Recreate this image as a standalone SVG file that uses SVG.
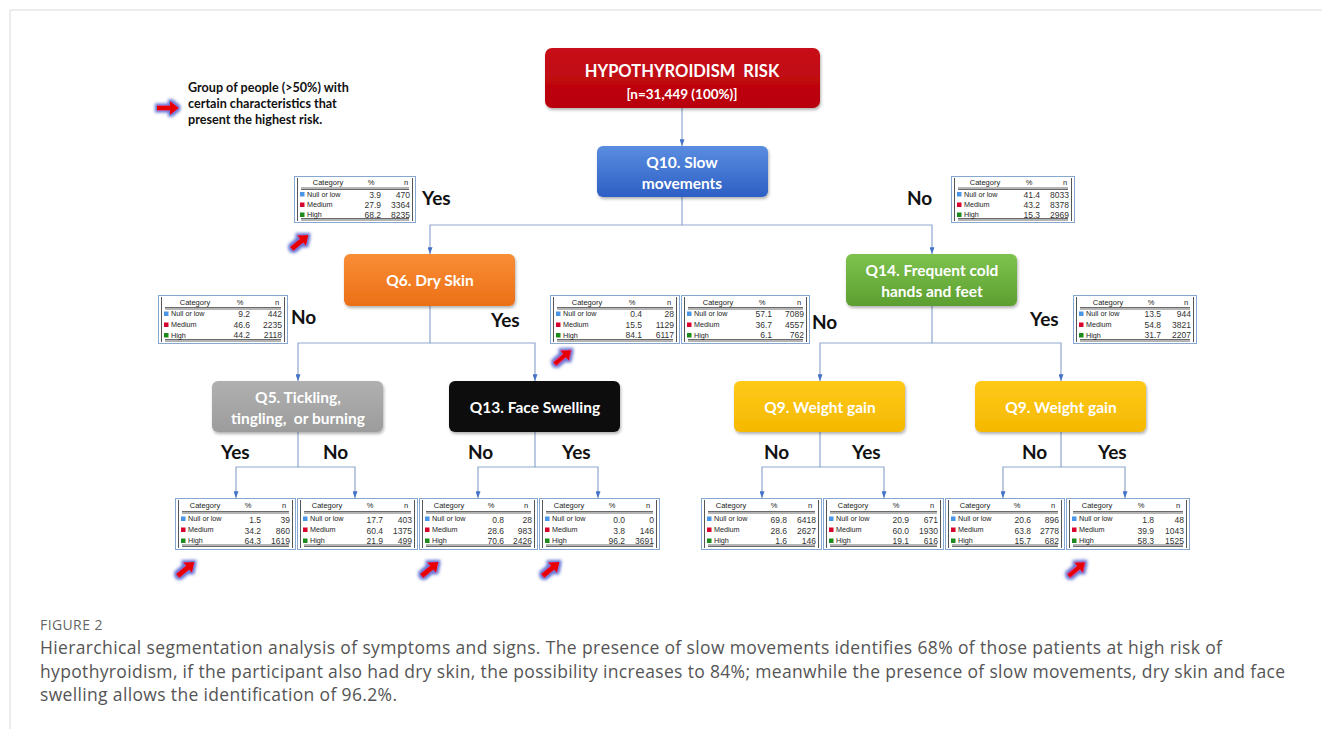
<svg xmlns="http://www.w3.org/2000/svg" xmlns:xlink="http://www.w3.org/1999/xlink" width="1322" height="729" viewBox="0 0 1322 729">
<style>
.nt{font-family:Lato,"Open Sans",sans-serif;font-weight:bold;fill:#fff;text-anchor:middle}
.yn{font-family:Lato,"Liberation Sans",sans-serif;font-weight:bold;font-size:19px;fill:#111}
.leg{font-family:Lato,"Liberation Sans",sans-serif;font-weight:bold;font-size:12.6px;fill:#111}
.cn{fill:none;stroke:#8FA8CF;stroke-width:1.2}
.tb{fill:#fff;stroke:#86A7CF;stroke-width:1}
.tv{stroke:#555;stroke-width:1}
.tl{stroke:#444;stroke-width:0.8}
.th{font-family:"Liberation Sans",Arial,sans-serif;font-size:7.5px;fill:#222;text-anchor:middle}
.tc{font-family:"Liberation Sans",Arial,sans-serif;font-size:7.2px;fill:#222}
.tn{font-family:"Liberation Sans",Arial,sans-serif;font-size:8.5px;fill:#333;text-anchor:end}
.sb{fill:#4A95E6}.sr{fill:#D9042E}.sg{fill:#1C8A1C}
.cap{font-family:"Open Sans",sans-serif;font-size:17.5px;fill:#555}
</style>
<defs>
<filter id="sh" x="-10%" y="-20%" width="120%" height="150%"><feDropShadow dx="1" dy="2" stdDeviation="1.5" flood-color="#000" flood-opacity="0.3"/></filter>
<filter id="glow" x="-60%" y="-60%" width="220%" height="220%">
<feMorphology in="SourceAlpha" operator="dilate" radius="1.5" result="d"/>
<feGaussianBlur in="d" stdDeviation="1.4" result="b"/>
<feFlood flood-color="#3A4FC8" flood-opacity="0.8"/>
<feComposite in2="b" operator="in" result="g"/>
<feMerge><feMergeNode in="g"/><feMergeNode in="SourceGraphic"/></feMerge>
</filter>
<marker id="ah" viewBox="0 0 8 6" refX="8" refY="3" markerWidth="7" markerHeight="5" orient="auto" markerUnits="userSpaceOnUse"><path d="M0,0 L8,3 L0,6 Z" fill="#4472C4"/></marker>
<linearGradient id="gRed" x1="0" y1="0" x2="0" y2="1"><stop offset="0" stop-color="#C8101A"/><stop offset="1" stop-color="#B80008"/></linearGradient>
<linearGradient id="gBlue" x1="0" y1="0" x2="0" y2="1"><stop offset="0" stop-color="#5A8DE0"/><stop offset="1" stop-color="#2D5FC4"/></linearGradient>
<linearGradient id="gOr" x1="0" y1="0" x2="0" y2="1"><stop offset="0" stop-color="#F98E36"/><stop offset="1" stop-color="#EC6F17"/></linearGradient>
<linearGradient id="gGr" x1="0" y1="0" x2="0" y2="1"><stop offset="0" stop-color="#7EC24E"/><stop offset="1" stop-color="#5C9F30"/></linearGradient>
<linearGradient id="gGy" x1="0" y1="0" x2="0" y2="1"><stop offset="0" stop-color="#B0B0B0"/><stop offset="1" stop-color="#9C9C9C"/></linearGradient>
<linearGradient id="gYe" x1="0" y1="0" x2="0" y2="1"><stop offset="0" stop-color="#FFCA1A"/><stop offset="1" stop-color="#F5B800"/></linearGradient>
<path id="ra" d="M-11,-2.6 H2 V-7 L11,0 L2,7 V2.6 H-11 Z" fill="#E60000"/>
</defs>
<rect width="1322" height="729" fill="#fff"/>
<path d="M10,729 V10 H1322" fill="none" stroke="#DADADA" stroke-width="1"/>

<!-- legend -->
<g id="legend">
<use xlink:href="#ra" transform="translate(168,108)" filter="url(#glow)"/>
<text class="leg" x="188" y="92">Group of people (&gt;50%) with</text>
<text class="leg" x="188" y="108">certain characteristics that</text>
<text class="leg" x="188" y="124">present the highest risk.</text>
</g>

<!-- connectors -->
<g id="connectors">
<path class="cn" d="M682,108 V146" marker-end="url(#ah)"/>
<path class="cn" d="M682,197 V225 H430 V254" marker-end="url(#ah)"/>
<path class="cn" d="M682,225 H932 V254" marker-end="url(#ah)"/>
<path class="cn" d="M430,306 V343 H298 V381" marker-end="url(#ah)"/>
<path class="cn" d="M430,343 H535 V381" marker-end="url(#ah)"/>
<path class="cn" d="M932,306 V343 H820 V381" marker-end="url(#ah)"/>
<path class="cn" d="M932,343 H1061 V381" marker-end="url(#ah)"/>
<path class="cn" d="M298,432 V467 H236 V498" marker-end="url(#ah)"/>
<path class="cn" d="M298,467 H355 V498" marker-end="url(#ah)"/>
<path class="cn" d="M535,432 V467 H478 V498" marker-end="url(#ah)"/>
<path class="cn" d="M535,467 H598 V498" marker-end="url(#ah)"/>
<path class="cn" d="M820,432 V467 H762 V498" marker-end="url(#ah)"/>
<path class="cn" d="M820,467 H884 V498" marker-end="url(#ah)"/>
<path class="cn" d="M1061,432 V467 H1003 V498" marker-end="url(#ah)"/>
<path class="cn" d="M1061,467 H1125 V498" marker-end="url(#ah)"/>
</g>

<!-- nodes -->
<g id="root"><rect x="545" y="48" width="275" height="60" rx="7" fill="url(#gRed)" filter="url(#sh)"/>
<text class="nt" x="682" y="77" font-size="16.5" xml:space="preserve">HYPOTHYROIDISM  RISK</text>
<text class="nt" x="682" y="99" font-size="13.5">[n=31,449 (100%)]</text></g>
<g id="q10"><rect x="597" y="146" width="171" height="51" rx="6" fill="url(#gBlue)" filter="url(#sh)"/>
<text class="nt" x="682" y="168" font-size="15.5">Q10. Slow</text>
<text class="nt" x="682" y="189" font-size="15.5">movements</text></g>
<g id="q6"><rect x="344" y="254" width="171" height="52" rx="6" fill="url(#gOr)" filter="url(#sh)"/>
<text class="nt" x="430" y="286" font-size="15.5">Q6. Dry Skin</text></g>
<g id="q14"><rect x="846" y="254" width="171" height="52" rx="6" fill="url(#gGr)" filter="url(#sh)"/>
<text class="nt" x="932" y="276" font-size="15.5">Q14. Frequent cold</text>
<text class="nt" x="932" y="297" font-size="15.5">hands and feet</text></g>
<g id="q5"><rect x="212" y="381" width="171" height="51" rx="6" fill="url(#gGy)" filter="url(#sh)"/>
<text class="nt" x="298" y="403" font-size="15.5">Q5. Tickling,</text>
<text class="nt" x="298" y="424" font-size="15.5" xml:space="preserve">tingling,  or burning</text></g>
<g id="q13"><rect x="449" y="381" width="171" height="51" rx="6" fill="#0E0E0E" filter="url(#sh)"/>
<text class="nt" x="535" y="413" font-size="15.5">Q13. Face Swelling</text></g>
<g id="q9a"><rect x="734" y="381" width="171" height="51" rx="6" fill="url(#gYe)" filter="url(#sh)"/>
<text class="nt" x="820" y="413" font-size="15.5">Q9. Weight gain</text></g>
<g id="q9b"><rect x="975" y="381" width="171" height="51" rx="6" fill="url(#gYe)" filter="url(#sh)"/>
<text class="nt" x="1061" y="413" font-size="15.5">Q9. Weight gain</text></g>

<!-- yes/no labels -->
<g id="labels">
<text class="yn" x="422" y="205">Yes</text>
<text class="yn" x="907" y="205">No</text>
<text class="yn" x="291" y="324">No</text>
<text class="yn" x="491" y="327">Yes</text>
<text class="yn" x="812" y="329">No</text>
<text class="yn" x="1030" y="326">Yes</text>
<text class="yn" x="221" y="459">Yes</text>
<text class="yn" x="323" y="459">No</text>
<text class="yn" x="468" y="459">No</text>
<text class="yn" x="562" y="459">Yes</text>
<text class="yn" x="764" y="459">No</text>
<text class="yn" x="852" y="459">Yes</text>
<text class="yn" x="1022" y="459">No</text>
<text class="yn" x="1098" y="459">Yes</text>
</g>

<!-- tables -->
<g id="t1" transform="translate(294,176)">
<rect class="tb" x="0.5" y="0.5" width="121" height="46"/>
<path class="tv" d="M3.5,2 V45 M118.5,2 V45"/>
<text class="th" x="34" y="9">Category</text><text class="th" x="77" y="9">%</text><text class="th" x="112" y="9">n</text>
<path class="tl" d="M7,12 H115 M7,13.5 H115 M7,42.5 H115 M7,44 H115"/>
<rect class="sb" x="6" y="16" width="4.5" height="4.5"/><text class="tc" x="13" y="20.5">Null or low</text><text class="tn" x="87" y="21.5">3.9</text><text class="tn" x="116" y="21.5">470</text>
<rect class="sr" x="6" y="26.5" width="4.5" height="4.5"/><text class="tc" x="13" y="31">Medium</text><text class="tn" x="87" y="32">27.9</text><text class="tn" x="116" y="32">3364</text>
<rect class="sg" x="6" y="36.5" width="4.5" height="4.5"/><text class="tc" x="13" y="41">High</text><text class="tn" x="87" y="41.5">68.2</text><text class="tn" x="116" y="41.5">8235</text>
</g>
<g id="t2" transform="translate(951,176)">
<rect class="tb" x="0.5" y="0.5" width="123" height="46"/>
<path class="tv" d="M3.5,2 V45 M120.5,2 V45"/>
<text class="th" x="34" y="9">Category</text><text class="th" x="78" y="9">%</text><text class="th" x="114" y="9">n</text>
<path class="tl" d="M7,12 H117 M7,13.5 H117 M7,42.5 H117 M7,44 H117"/>
<rect class="sb" x="6" y="16" width="4.5" height="4.5"/><text class="tc" x="13" y="20.5">Null or low</text><text class="tn" x="89" y="21.5">41.4</text><text class="tn" x="118" y="21.5">8033</text>
<rect class="sr" x="6" y="26.5" width="4.5" height="4.5"/><text class="tc" x="13" y="31">Medium</text><text class="tn" x="89" y="32">43.2</text><text class="tn" x="118" y="32">8378</text>
<rect class="sg" x="6" y="36.5" width="4.5" height="4.5"/><text class="tc" x="13" y="41">High</text><text class="tn" x="89" y="41.5">15.3</text><text class="tn" x="118" y="41.5">2969</text>
</g>
<g id="t3" transform="translate(158,295)">
<rect class="tb" x="0.5" y="0.5" width="129" height="48"/>
<path class="tv" d="M3.5,2 V47 M126.5,2 V47"/>
<text class="th" x="37" y="9.5">Category</text><text class="th" x="82" y="9.5">%</text><text class="th" x="119" y="9.5">n</text>
<path class="tl" d="M7,12.5 H123 M7,14 H123 M7,44.5 H123 M7,46 H123"/>
<rect class="sb" x="6" y="16.5" width="4.5" height="4.5"/><text class="tc" x="13" y="21">Null or low</text><text class="tn" x="92" y="22">9.2</text><text class="tn" x="124" y="22">442</text>
<rect class="sr" x="6" y="27.5" width="4.5" height="4.5"/><text class="tc" x="13" y="32">Medium</text><text class="tn" x="92" y="33">46.6</text><text class="tn" x="124" y="33">2235</text>
<rect class="sg" x="6" y="38" width="4.5" height="4.5"/><text class="tc" x="13" y="42.5">High</text><text class="tn" x="92" y="43">44.2</text><text class="tn" x="124" y="43">2118</text>
</g>
<g id="t4" transform="translate(550,295)">
<rect class="tb" x="0.5" y="0.5" width="129" height="48"/>
<path class="tv" d="M3.5,2 V47 M126.5,2 V47"/>
<text class="th" x="37" y="9.5">Category</text><text class="th" x="82" y="9.5">%</text><text class="th" x="119" y="9.5">n</text>
<path class="tl" d="M7,12.5 H123 M7,14 H123 M7,44.5 H123 M7,46 H123"/>
<rect class="sb" x="6" y="16.5" width="4.5" height="4.5"/><text class="tc" x="13" y="21">Null or low</text><text class="tn" x="92" y="22">0.4</text><text class="tn" x="124" y="22">28</text>
<rect class="sr" x="6" y="27.5" width="4.5" height="4.5"/><text class="tc" x="13" y="32">Medium</text><text class="tn" x="92" y="33">15.5</text><text class="tn" x="124" y="33">1129</text>
<rect class="sg" x="6" y="38" width="4.5" height="4.5"/><text class="tc" x="13" y="42.5">High</text><text class="tn" x="92" y="43">84.1</text><text class="tn" x="124" y="43">6117</text>
</g>
<g id="t5" transform="translate(681,295)">
<rect class="tb" x="0.5" y="0.5" width="128" height="48"/>
<path class="tv" d="M3.5,2 V47 M125.5,2 V47"/>
<text class="th" x="37" y="9.5">Category</text><text class="th" x="81" y="9.5">%</text><text class="th" x="118" y="9.5">n</text>
<path class="tl" d="M7,12.5 H122 M7,14 H122 M7,44.5 H122 M7,46 H122"/>
<rect class="sb" x="6" y="16.5" width="4.5" height="4.5"/><text class="tc" x="13" y="21">Null or low</text><text class="tn" x="91" y="22">57.1</text><text class="tn" x="123" y="22">7089</text>
<rect class="sr" x="6" y="27.5" width="4.5" height="4.5"/><text class="tc" x="13" y="32">Medium</text><text class="tn" x="91" y="33">36.7</text><text class="tn" x="123" y="33">4557</text>
<rect class="sg" x="6" y="38" width="4.5" height="4.5"/><text class="tc" x="13" y="42.5">High</text><text class="tn" x="91" y="43">6.1</text><text class="tn" x="123" y="43">762</text>
</g>
<g id="t6" transform="translate(1073,295)">
<rect class="tb" x="0.5" y="0.5" width="123" height="48"/>
<path class="tv" d="M3.5,2 V47 M120.5,2 V47"/>
<text class="th" x="35" y="9.5">Category</text><text class="th" x="78" y="9.5">%</text><text class="th" x="113" y="9.5">n</text>
<path class="tl" d="M7,12.5 H117 M7,14 H117 M7,44.5 H117 M7,46 H117"/>
<rect class="sb" x="6" y="16.5" width="4.5" height="4.5"/><text class="tc" x="13" y="21">Null or low</text><text class="tn" x="88" y="22">13.5</text><text class="tn" x="118" y="22">944</text>
<rect class="sr" x="6" y="27.5" width="4.5" height="4.5"/><text class="tc" x="13" y="32">Medium</text><text class="tn" x="88" y="33">54.8</text><text class="tn" x="118" y="33">3821</text>
<rect class="sg" x="6" y="38" width="4.5" height="4.5"/><text class="tc" x="13" y="42.5">High</text><text class="tn" x="88" y="43">31.7</text><text class="tn" x="118" y="43">2207</text>
</g>

<g id="t7" transform="translate(175,498)">
<rect class="tb" x="0.5" y="0.5" width="120" height="51"/>
<path class="tv" d="M3.5,2 V50 M117.5,2 V50"/>
<text class="th" x="30" y="10">Category</text><text class="th" x="73" y="10">%</text><text class="th" x="109" y="10">n</text>
<path class="tl" d="M7,13.5 H114 M7,15 H114 M7,47 H114 M7,48.5 H114"/>
<rect class="sb" x="6" y="18.5" width="4.5" height="4.5"/><text class="tc" x="13" y="23">Null or low</text><text class="tn" x="86" y="24.5">1.5</text><text class="tn" x="115" y="24.5">39</text>
<rect class="sr" x="6" y="29.5" width="4.5" height="4.5"/><text class="tc" x="13" y="34">Medium</text><text class="tn" x="86" y="35.5">34.2</text><text class="tn" x="115" y="35.5">860</text>
<rect class="sg" x="6" y="40.5" width="4.5" height="4.5"/><text class="tc" x="13" y="45">High</text><text class="tn" x="86" y="45.5">64.3</text><text class="tn" x="115" y="45.5">1619</text>
</g>
<g id="t8" transform="translate(297,498)">
<rect class="tb" x="0.5" y="0.5" width="120" height="51"/>
<path class="tv" d="M3.5,2 V50 M117.5,2 V50"/>
<text class="th" x="30" y="10">Category</text><text class="th" x="73" y="10">%</text><text class="th" x="109" y="10">n</text>
<path class="tl" d="M7,13.5 H114 M7,15 H114 M7,47 H114 M7,48.5 H114"/>
<rect class="sb" x="6" y="18.5" width="4.5" height="4.5"/><text class="tc" x="13" y="23">Null or low</text><text class="tn" x="86" y="24.5">17.7</text><text class="tn" x="115" y="24.5">403</text>
<rect class="sr" x="6" y="29.5" width="4.5" height="4.5"/><text class="tc" x="13" y="34">Medium</text><text class="tn" x="86" y="35.5">60.4</text><text class="tn" x="115" y="35.5">1375</text>
<rect class="sg" x="6" y="40.5" width="4.5" height="4.5"/><text class="tc" x="13" y="45">High</text><text class="tn" x="86" y="45.5">21.9</text><text class="tn" x="115" y="45.5">499</text>
</g>
<g id="t9" transform="translate(419,498)">
<rect class="tb" x="0.5" y="0.5" width="118" height="51"/>
<path class="tv" d="M3.5,2 V50 M115.5,2 V50"/>
<text class="th" x="30" y="10">Category</text><text class="th" x="72" y="10">%</text><text class="th" x="107" y="10">n</text>
<path class="tl" d="M7,13.5 H112 M7,15 H112 M7,47 H112 M7,48.5 H112"/>
<rect class="sb" x="6" y="18.5" width="4.5" height="4.5"/><text class="tc" x="13" y="23">Null or low</text><text class="tn" x="85" y="24.5">0.8</text><text class="tn" x="113" y="24.5">28</text>
<rect class="sr" x="6" y="29.5" width="4.5" height="4.5"/><text class="tc" x="13" y="34">Medium</text><text class="tn" x="85" y="35.5">28.6</text><text class="tn" x="113" y="35.5">983</text>
<rect class="sg" x="6" y="40.5" width="4.5" height="4.5"/><text class="tc" x="13" y="45">High</text><text class="tn" x="85" y="45.5">70.6</text><text class="tn" x="113" y="45.5">2426</text>
</g>
<g id="t10" transform="translate(539,498)">
<rect class="tb" x="0.5" y="0.5" width="120" height="51"/>
<path class="tv" d="M3.5,2 V50 M117.5,2 V50"/>
<text class="th" x="30" y="10">Category</text><text class="th" x="73" y="10">%</text><text class="th" x="109" y="10">n</text>
<path class="tl" d="M7,13.5 H114 M7,15 H114 M7,47 H114 M7,48.5 H114"/>
<rect class="sb" x="6" y="18.5" width="4.5" height="4.5"/><text class="tc" x="13" y="23">Null or low</text><text class="tn" x="86" y="24.5">0.0</text><text class="tn" x="115" y="24.5">0</text>
<rect class="sr" x="6" y="29.5" width="4.5" height="4.5"/><text class="tc" x="13" y="34">Medium</text><text class="tn" x="86" y="35.5">3.8</text><text class="tn" x="115" y="35.5">146</text>
<rect class="sg" x="6" y="40.5" width="4.5" height="4.5"/><text class="tc" x="13" y="45">High</text><text class="tn" x="86" y="45.5">96.2</text><text class="tn" x="115" y="45.5">3691</text>
</g>
<g id="t11" transform="translate(701,498)">
<rect class="tb" x="0.5" y="0.5" width="120" height="51"/>
<path class="tv" d="M3.5,2 V50 M117.5,2 V50"/>
<text class="th" x="30" y="10">Category</text><text class="th" x="73" y="10">%</text><text class="th" x="109" y="10">n</text>
<path class="tl" d="M7,13.5 H114 M7,15 H114 M7,47 H114 M7,48.5 H114"/>
<rect class="sb" x="6" y="18.5" width="4.5" height="4.5"/><text class="tc" x="13" y="23">Null or low</text><text class="tn" x="86" y="24.5">69.8</text><text class="tn" x="115" y="24.5">6418</text>
<rect class="sr" x="6" y="29.5" width="4.5" height="4.5"/><text class="tc" x="13" y="34">Medium</text><text class="tn" x="86" y="35.5">28.6</text><text class="tn" x="115" y="35.5">2627</text>
<rect class="sg" x="6" y="40.5" width="4.5" height="4.5"/><text class="tc" x="13" y="45">High</text><text class="tn" x="86" y="45.5">1.6</text><text class="tn" x="115" y="45.5">146</text>
</g>
<g id="t12" transform="translate(823,498)">
<rect class="tb" x="0.5" y="0.5" width="120" height="51"/>
<path class="tv" d="M3.5,2 V50 M117.5,2 V50"/>
<text class="th" x="30" y="10">Category</text><text class="th" x="73" y="10">%</text><text class="th" x="109" y="10">n</text>
<path class="tl" d="M7,13.5 H114 M7,15 H114 M7,47 H114 M7,48.5 H114"/>
<rect class="sb" x="6" y="18.5" width="4.5" height="4.5"/><text class="tc" x="13" y="23">Null or low</text><text class="tn" x="86" y="24.5">20.9</text><text class="tn" x="115" y="24.5">671</text>
<rect class="sr" x="6" y="29.5" width="4.5" height="4.5"/><text class="tc" x="13" y="34">Medium</text><text class="tn" x="86" y="35.5">60.0</text><text class="tn" x="115" y="35.5">1930</text>
<rect class="sg" x="6" y="40.5" width="4.5" height="4.5"/><text class="tc" x="13" y="45">High</text><text class="tn" x="86" y="45.5">19.1</text><text class="tn" x="115" y="45.5">616</text>
</g>
<g id="t13" transform="translate(945,498)">
<rect class="tb" x="0.5" y="0.5" width="119" height="51"/>
<path class="tv" d="M3.5,2 V50 M116.5,2 V50"/>
<text class="th" x="30" y="10">Category</text><text class="th" x="72" y="10">%</text><text class="th" x="108" y="10">n</text>
<path class="tl" d="M7,13.5 H113 M7,15 H113 M7,47 H113 M7,48.5 H113"/>
<rect class="sb" x="6" y="18.5" width="4.5" height="4.5"/><text class="tc" x="13" y="23">Null or low</text><text class="tn" x="86" y="24.5">20.6</text><text class="tn" x="114" y="24.5">896</text>
<rect class="sr" x="6" y="29.5" width="4.5" height="4.5"/><text class="tc" x="13" y="34">Medium</text><text class="tn" x="86" y="35.5">63.8</text><text class="tn" x="114" y="35.5">2778</text>
<rect class="sg" x="6" y="40.5" width="4.5" height="4.5"/><text class="tc" x="13" y="45">High</text><text class="tn" x="86" y="45.5">15.7</text><text class="tn" x="114" y="45.5">682</text>
</g>
<g id="t14" transform="translate(1066,498)">
<rect class="tb" x="0.5" y="0.5" width="123" height="51"/>
<path class="tv" d="M3.5,2 V50 M120.5,2 V50"/>
<text class="th" x="31" y="10">Category</text><text class="th" x="75" y="10">%</text><text class="th" x="112" y="10">n</text>
<path class="tl" d="M7,13.5 H117 M7,15 H117 M7,47 H117 M7,48.5 H117"/>
<rect class="sb" x="6" y="18.5" width="4.5" height="4.5"/><text class="tc" x="13" y="23">Null or low</text><text class="tn" x="88" y="24.5">1.8</text><text class="tn" x="118" y="24.5">48</text>
<rect class="sr" x="6" y="29.5" width="4.5" height="4.5"/><text class="tc" x="13" y="34">Medium</text><text class="tn" x="88" y="35.5">39.9</text><text class="tn" x="118" y="35.5">1043</text>
<rect class="sg" x="6" y="40.5" width="4.5" height="4.5"/><text class="tc" x="13" y="45">High</text><text class="tn" x="88" y="45.5">58.3</text><text class="tn" x="118" y="45.5">1525</text>
</g>

<!-- highlight arrows -->
<g id="arrows" filter="url(#glow)">
<use xlink:href="#ra" transform="translate(300,242) rotate(-40)"/>
<use xlink:href="#ra" transform="translate(563,357) rotate(-40)"/>
<use xlink:href="#ra" transform="translate(186,569) rotate(-40)"/>
<use xlink:href="#ra" transform="translate(430,569) rotate(-40)"/>
<use xlink:href="#ra" transform="translate(551,569) rotate(-40)"/>
<use xlink:href="#ra" transform="translate(1077,569) rotate(-40)"/>
</g>

<!-- caption -->
<g id="caption">
<text x="40" y="630" font-family="'Open Sans',sans-serif" font-size="14" fill="#666" letter-spacing="0.4">FIGURE 2</text>
<text class="cap" x="40" y="654" textLength="1182" lengthAdjust="spacing">Hierarchical segmentation analysis of symptoms and signs. The presence of slow movements identifies 68% of those patients at high risk of</text>
<text class="cap" x="40" y="678" textLength="1245" lengthAdjust="spacing">hypothyroidism, if the participant also had dry skin, the possibility increases to 84%; meanwhile the presence of slow movements, dry skin and face</text>
<text class="cap" x="40" y="701" textLength="357" lengthAdjust="spacing">swelling allows the identification of 96.2%.</text>
</g>
</svg>
